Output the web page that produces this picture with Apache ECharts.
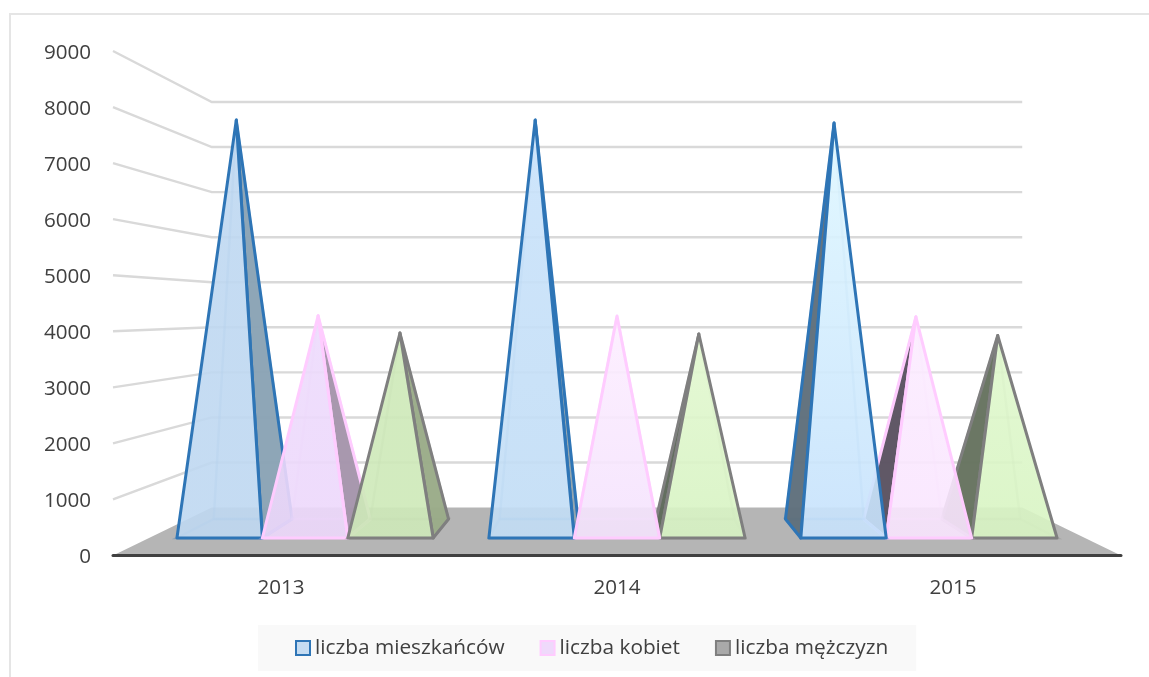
<!DOCTYPE html>
<html><head><meta charset="utf-8">
<style>html,body{margin:0;padding:0;background:#fff}#c{width:1149px;height:677px}</style>
<script src="https://cdn.jsdelivr.net/npm/echarts@6/dist/echarts.min.js"></script>
</head><body><div id="c"></div>
<script>
const years = ['2013','2014','2015'];
const seriesNames = ['liczba mieszkańców','liczba kobiet','liczba mężczyzn'];
const mieszkancow = [8190,8190,8130];
const kobiet = [4265,4260,4245];
const mezczyzn = [3920,3900,3870];
const ticks = [1000,2000,3000,4000,5000,6000,7000,8000,9000];

const lineColors = ['#2e75b6','#ffccff','#7f7f7f'];
const legendFills = ['#c5dcf2','#efd9fb','#a9a9a9'];
const frontTop = [['#c5dcf2','#cfe6fb','#e3f9ff'],['#efdffc','#fdf0ff','#fcefff'],['#d3ebc0','#e6f9d6','#e3f9d3']];
const frontBottom = [['#c5dcf2','#c8e0f6','#cde5fc'],['#efdcfb','#f5e6fd','#fae8fe'],['#d3ebc0','#dbf4c9','#dcf5c9']];
const sideColors = [['#8aa3b5','#8fa3ad','#5f6f7c'],['#a595ab','#a595ab','#5b5361'],['#9aab88','#5e6a5a','#66735f']];

const depthScale = 0.804, baseFront = 0.9284, baseBack = 0.8507, vanishValue = 4360, barShare = 0.2738, frontAlpha = 0.9;

function hexVeil(hex, a){
  const n = parseInt(hex.slice(1),16);
  const ch = v => Math.max(0,Math.min(255,Math.round((v-255*(1-a))/a)));
  return `rgba(${ch(n>>16&255)},${ch(n>>8&255)},${ch(n&255)},${a})`;
}
function rgba(hex,a){
  const n = parseInt(hex.slice(1),16);
  return `rgba(${n>>16&255},${n>>8&255},${n&255},${a})`;
}
function poly(points, style, z2){ return {type:'polygon', shape:{points}, style, z2, silent:true}; }

function renderGrid(params, api){
  const cs = params.coordSys, v = api.value(0);
  const y = api.coord([0,v])[1], vy = api.coord([0,vanishValue])[1];
  const vx = cs.x+cs.width/2;
  const p = (x,yy)=>[vx+(x-vx)*depthScale, vy+(yy-vy)*depthScale];
  const s = {stroke:'#d9d9d9', lineWidth:2.4, fill:null};
  const back = p(cs.x,y);
  return {type:'group',children:[
    {type:'polyline',shape:{points:[[cs.x,y],back,p(cs.x+cs.width,y)]},style:s,silent:true}
  ]};
}
function renderFloor(params, api){
  const cs = params.coordSys;
  const y = api.coord([0,0])[1], vy = api.coord([0,vanishValue])[1];
  const vx = cs.x+cs.width/2;
  const p = (x)=>[vx+(x-vx)*depthScale, vy+(y-vy)*depthScale];
  return poly([[cs.x,y],[cs.x+cs.width,y],p(cs.x+cs.width),p(cs.x)],{fill:'#b5b5b5'},0);
}
function makePyramid(si){
  return function(params, api){
    const cs = params.coordSys, yi = api.value(0), val = api.value(1);
    const vx = cs.x+cs.width/2, vy = api.coord([0,vanishValue])[1];
    const top = api.coord([yi,val]), y0 = api.coord([yi,0])[1];
    const w = cs.width/3*barShare;
    const cx = top[0]+(si-1)*w, xl = cx-w/2, xr = cx+w/2;
    const p = (x,y,t)=>[vx+(x-vx)*t, vy+(y-vy)*t];
    const fl = p(xl,y0,baseFront), fr = p(xr,y0,baseFront);
    const bl = p(xl,y0,baseBack), br = p(xr,y0,baseBack);
    const apex = p(cx,top[1],(baseFront+baseBack)/2);
    const z = 1000-Math.round(Math.abs(cx-vx));
    const line = lineColors[si];
    const kids = [];
    const faint = {stroke:rgba(line==='#ffccff'?'#e8b8f0':line,0.3),lineWidth:2.5,fill:rgba(frontBottom[si][yi],0.12),lineJoin:'round'};
    kids.push(poly([bl,br,apex],faint,z));
    kids.push(poly([fl,fr,br,bl],{stroke:faint.stroke,lineWidth:2.5,fill:'rgba(255,255,255,0)'},z+1));
    const leftVisible = bl[0]<fl[0], rightVisible = br[0]>fr[0];
    const sideStyle = {fill:rgba(sideColors[si][yi],0.97),stroke:line,lineWidth:3,lineJoin:'round'};
    if(leftVisible) kids.push(poly([fl,bl,apex],sideStyle,z+2));
    if(rightVisible) kids.push(poly([fr,br,apex],sideStyle,z+2));
    kids.push(poly([fl,fr,apex],{
      fill:{type:'linear',x:0,y:0,x2:0,y2:1,colorStops:[
        {offset:0,color:hexVeil(frontTop[si][yi],frontAlpha)},
        {offset:1,color:hexVeil(frontBottom[si][yi],frontAlpha)}]},
      stroke:line,lineWidth:3,lineJoin:'round'},z+3));
    return {type:'group',children:kids};
  };
}
const valueLists = [mieszkancow,kobiet,mezczyzn];
const chart = echarts.init(document.getElementById('c'),null,{renderer:'canvas'});
const txt = {fontFamily:'"Open Sans"',fontSize:20.6,color:'#404040'};
chart.setOption({
  animation:false,
  backgroundColor:'#fff',
  graphic:[{type:'rect',shape:{x:10,y:14,width:1200,height:720},style:{fill:'none',stroke:'#e5e5e5',lineWidth:2},z:-1,silent:true}],
  grid:{left:113,right:28,top:51,bottom:121.5},
  xAxis:{type:'category',data:years,z:6,axisTick:{show:false},
    axisLine:{lineStyle:{color:'#404040',width:3}},axisLabel:{...txt,margin:22}},
  yAxis:{type:'value',min:0,max:9000,interval:1000,axisLine:{show:false},axisTick:{show:false},
    splitLine:{show:false},axisLabel:{...txt,margin:22,verticalAlign:'top',lineHeight:4,formatter:v=>String(v)}},
  legend:{left:258,top:625,padding:[12.5,28,12.5,37],backgroundColor:'#f9f9f9',icon:'rect',itemWidth:14,itemHeight:14,itemGap:35,
    data:seriesNames,textStyle:{...txt,fontSize:20.8},selectedMode:false},
  series:[
    {type:'custom',coordinateSystem:'cartesian2d',clip:false,silent:true,z:1,renderItem:renderGrid,data:ticks.map(v=>[v]),encode:{y:0}},
    {type:'custom',coordinateSystem:'cartesian2d',clip:false,silent:true,z:2,renderItem:renderFloor,data:[[0]],encode:{y:0}},
    ...seriesNames.map((name,si)=>({
      name,type:'custom',coordinateSystem:'cartesian2d',clip:false,silent:true,z:3,
      renderItem:makePyramid(si),
      itemStyle:{color:legendFills[si],borderColor:lineColors[si],borderWidth:2},
      encode:{x:0,y:1},
      data:valueLists[si].map((v,i)=>[i,v])
    }))
  ]
});
</script></body></html>
